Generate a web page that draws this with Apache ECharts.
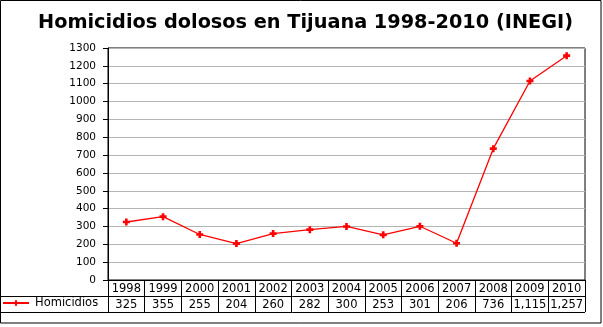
<!DOCTYPE html>
<html>
<head>
<meta charset="utf-8">
<script src="https://cdn.jsdelivr.net/npm/echarts@6/dist/echarts.min.js"></script>
<style>html,body{margin:0;padding:0;background:#fff}#c{width:603px;height:327px}</style>
</head>
<body>
<div id="c"></div>
<script>
var titleText = 'Homicidios dolosos en Tijuana 1998-2010 (INEGI)';
var seriesName = 'Homicidios';
var years = ['1998','1999','2000','2001','2002','2003','2004','2005','2006','2007','2008','2009','2010'];
var homicidios = [325, 355, 255, 204, 260, 282, 300, 253, 301, 206, 736, 1115, 1257];
var yMin = 0, yMax = 1300, yStep = 100;

var valueLabels = homicidios.map(function (v) { return v.toLocaleString('en-US'); });

var G = { left: 108, right: 18, top: 48, bottom: 47 };
var W = 603, H = 327;
var axisY = H - G.bottom;
var rowH = 16;
var plotRight = W - G.right;

var chart = echarts.init(document.getElementById('c'), null, { renderer: 'canvas' });
var plusSym = 'path://M2.5,0H5.5V2.5H8V5.5H5.5V8H2.5V5.5H0V2.5H2.5Z';
chart.setOption({
  backgroundColor: '#fff',
  animation: false,
  title: {
    text: titleText, left: 33, top: 8,
    textStyle: { fontFamily: 'DejaVu Sans', fontWeight: 'bold', fontSize: 19.3, color: '#000' }
  },
  legend: {
    data: [seriesName], left: 2, top: axisY + rowH + 1, itemWidth: 26, itemHeight: 7, itemGap: 0,
    padding: 0,
    textStyle: { fontFamily: 'DejaVu Sans', fontSize: 11.5, color: '#000', padding: [0,0,0,1] }
  },
  grid: { left: G.left, right: G.right, top: G.top, bottom: G.bottom, show: true, borderColor: '#000', borderWidth: 1 },
  xAxis: [{
    type: 'category', data: years, position: 'bottom', boundaryGap: true,
    axisLine: { lineStyle: { color: '#000', width: 1 } },
    axisTick: { show: true, inside: false, length: rowH * 2, interval: 0, lineStyle: { color: '#000' } },
    axisLabel: { interval: 0, margin: 3, fontFamily: 'DejaVu Sans', fontSize: 11.5, color: '#000' }
  }, {
    type: 'category', data: valueLabels, position: 'bottom', offset: rowH, boundaryGap: true,
    axisLine: { show: false }, axisTick: { show: false },
    axisLabel: { interval: 0, margin: 3, fontFamily: 'DejaVu Sans', fontSize: 11.5, color: '#000' }
  }],
  yAxis: {
    type: 'value', min: yMin, max: yMax, interval: yStep,
    axisLine: { show: true, lineStyle: { color: '#000' } },
    axisTick: { show: true, inside: false, length: 5, lineStyle: { color: '#000' } },
    axisLabel: { margin: 12, fontFamily: 'DejaVu Sans', fontSize: 10.5, color: '#000', formatter: function (v) { return String(v); } },
    splitLine: { show: true, lineStyle: { color: '#b4b4b4', width: 1 } }
  },
  series: [{
    name: seriesName, type: 'line', data: homicidios, xAxisIndex: 0,
    symbol: plusSym, symbolSize: 7, showAllSymbol: true,
    lineStyle: { color: '#ff0000', width: 1.3 },
    itemStyle: { color: '#ff0000' }
  }],
  graphic: [
    { type: 'rect', shape: { x: 0.5, y: 0.5, width: W - 2.5, height: H - 4.5 }, style: { fill: null, stroke: '#000', lineWidth: 1 }, silent: true },
    { type: 'line', shape: { x1: 0, y1: axisY + rowH + 0.5, x2: plotRight, y2: axisY + rowH + 0.5 }, style: { stroke: '#000', lineWidth: 1 }, silent: true },
    { type: 'line', shape: { x1: 0, y1: axisY + rowH * 2 + 0.5, x2: plotRight, y2: axisY + rowH * 2 + 0.5 }, style: { stroke: '#000', lineWidth: 1 }, silent: true }
  ]
});
</script>
</body>
</html>
